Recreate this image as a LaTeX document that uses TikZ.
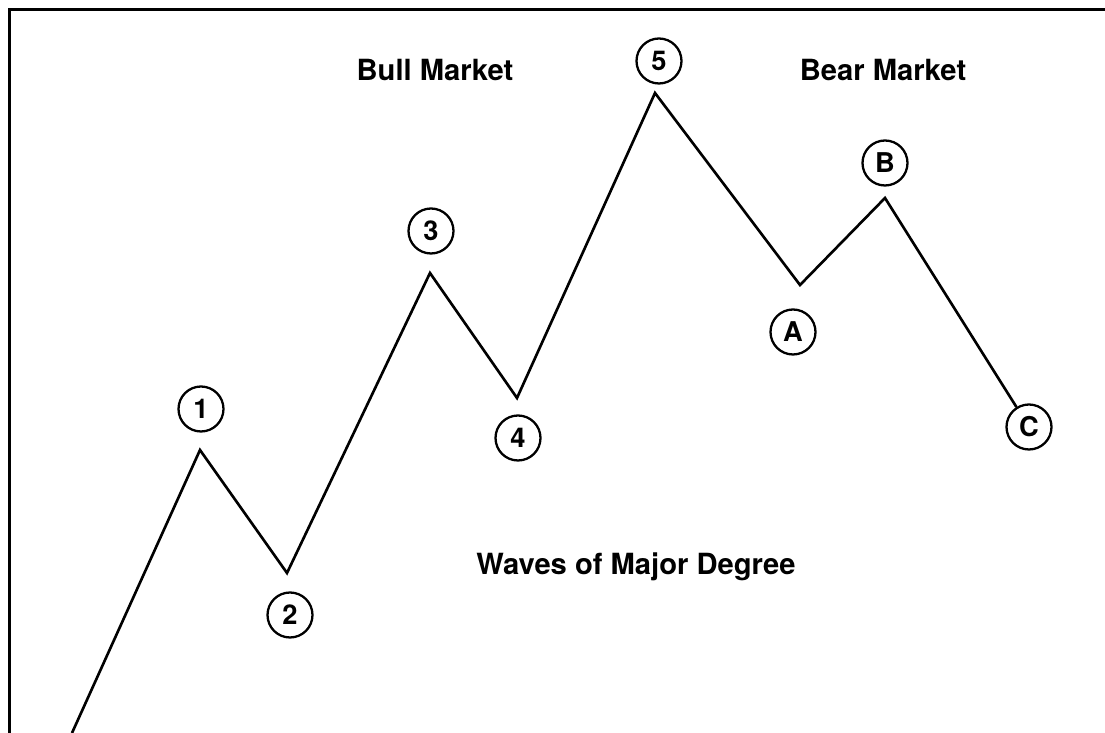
\documentclass[tikz,border=0pt]{standalone}
\usepackage{fontspec}
\setmainfont{TeX Gyre Heros}
\usepackage{tikz}

\tikzset{
    wavenum/.style={draw, circle, line width=1.3pt, minimum size=0.9cm,
        inner sep=0pt, font=\fontsize{15.5}{17}\selectfont\bfseries},
    marketlabel/.style={anchor=base, font=\fontsize{16.6}{19}\selectfont\bfseries}
}

\begin{document}
\begin{tikzpicture}
        \useasboundingbox (0, 0) rectangle (22.1, 14.66);
        \draw[line width=1.3pt] (0.19, 0) -- (0.19, 14.47) -- (22.1, 14.47);

        \coordinate (w0) at (1.44, 0);
        \coordinate (w1) at (4.00, 5.66);
        \coordinate (w2) at (5.74, 3.20);
        \coordinate (w3) at (8.60, 9.20);
        \coordinate (w4) at (10.34, 6.70);
        \coordinate (w5) at (13.10, 12.80);
        \coordinate (wA) at (16.00, 8.96);
        \coordinate (wB) at (17.70, 10.70);

        \node[wavenum] (n1) at (4.02, 6.48) {1};
        \node[wavenum] (n2) at (5.80, 2.36) {2};
        \node[wavenum] (n3) at (8.62, 10.04) {3};
        \node[wavenum] (n4) at (10.36, 5.90) {4};
        \node[wavenum] (n5) at (13.18, 13.44) {5};
        \node[wavenum] (nA) at (15.86, 8.02) {A};
        \node[wavenum] (nB) at (17.70, 11.40) {B};
        \node[wavenum] (nC) at (20.58, 6.12) {C};

        \draw[line width=1.5pt, line join=miter] (w0) -- (w1) -- (w2) -- (w3)
            -- (w4) -- (w5) -- (wA) -- (wB) -- (nC);

        \node[marketlabel] (bull) at (8.70, 13.04) {Bull Market};
        \node[marketlabel] (bear) at (17.66, 13.04) {Bear Market};
        \node[marketlabel] (major) at (12.72, 3.16) {Waves of Major Degree};
    \end{tikzpicture}
\end{document}
